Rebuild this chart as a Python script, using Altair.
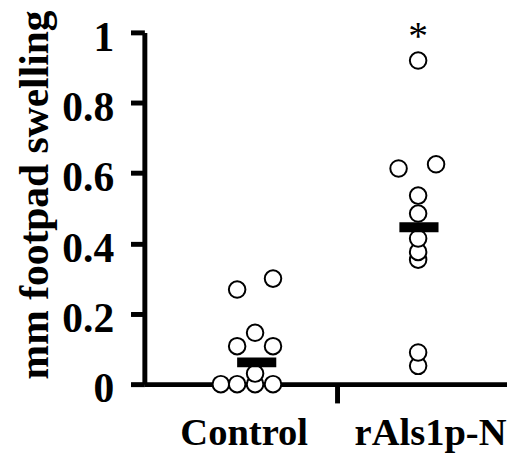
import altair as alt
import pandas as pd

# ---- data ----
groups = ["Control", "rAls1p-N"]
control_values = [0.0, 0.0, 0.0, 0.0, 0.03, 0.108, 0.108, 0.146, 0.269, 0.30]
control_pos = [0.79, 0.89, 1.0, 1.11, 1.0, 0.89, 1.11, 1.0, 0.89, 1.11]
rals_values = [0.052, 0.09, 0.354, 0.376, 0.414, 0.485, 0.536, 0.613, 0.625, 0.92]
rals_pos = [2.0, 2.0, 2.0, 2.0, 2.0, 2.0, 2.0, 1.88, 2.11, 2.0]
group_means = [0.062, 0.446]
mean_pos = [1.01, 2.005]
sig_marks = ["", "*"]
sig_pos = [1.0, 2.0]
sig_y = [1.0, 1.0]
label_pos = [0.93, 2.073]
divider_pos = [1.5]
y_ticks = [0, 0.2, 0.4, 0.6, 0.8, 1]

points = pd.DataFrame({
    "group": [groups[0]] * len(control_values) + [groups[1]] * len(rals_values),
    "pos": control_pos + rals_pos,
    "value": control_values + rals_values,
})
means = pd.DataFrame({"group": groups, "pos": mean_pos, "mean": group_means})
sig = pd.DataFrame({"pos": sig_pos, "y": sig_y, "txt": sig_marks})

FONT = "Liberation Serif"
xscale = alt.Scale(domain=[0.321, 2.545], nice=False, zero=False)
yscale = alt.Scale(domain=[0, 1], nice=False, zero=True)

label_expr = (
    f"abs(datum.value - {label_pos[0]}) < 0.01 ? '{groups[0]}' : "
    f"abs(datum.value - {label_pos[1]}) < 0.01 ? '{groups[1]}' : ''"
)

x_axis = alt.Axis(
    values=[label_pos[0], divider_pos[0], label_pos[1]],
    labelExpr=label_expr,
    title=None,
    grid=False,
    domainColor="black",
    domainWidth=5,
    tickColor="black",
    tickWidth=5,
    tickSize=19,
    tickOpacity={"condition": {"test": f"abs(datum.value - {divider_pos[0]}) < 0.01", "value": 1}, "value": 0},
    labelFont=FONT,
    labelFontSize=39,
    labelFontWeight="bold",
    labelColor="black",
    labelPadding=11,
    labelFlush=False,
    labelOverlap=False,
    labelBaseline="top",
)

y_axis = alt.Axis(
    values=y_ticks,
    format=".1~f",
    title="mm footpad swelling",
    titleFont=FONT,
    titleFontSize=42,
    titleFontWeight="bold",
    titleColor="black",
    titleX=-111,
    titleY=164,
    titleAngle=270,
    titleAlign="center",
    titleBaseline="middle",
    grid=False,
    domainColor="black",
    domainWidth=5,
    tickColor="black",
    tickWidth=5,
    tickSize=14,
    labelFont=FONT,
    labelFontSize=42,
    labelFontWeight="bold",
    labelColor="black",
    labelPadding=17,
    labelOffset=5,
)

base_pts = alt.Chart(points).mark_point(
    shape="circle", filled=True, fill="white", stroke="black",
    strokeWidth=2, size=280, opacity=1,
).encode(
    x=alt.X("pos:Q", scale=xscale, axis=x_axis),
    y=alt.Y("value:Q", scale=yscale, axis=y_axis),
)

mean_bars = alt.Chart(means).transform_calculate(
    x1="datum.pos - 0.12", x2="datum.pos + 0.12"
).mark_rule(color="black", strokeWidth=10).encode(
    x=alt.X("x1:Q", scale=xscale),
    x2="x2:Q",
    y=alt.Y("mean:Q", scale=yscale),
)

sig_text = alt.Chart(sig).mark_text(
    font=FONT, fontSize=40, color="black", baseline="middle", align="center", dy=5
).encode(
    x=alt.X("pos:Q", scale=xscale),
    y=alt.Y("y:Q", scale=yscale),
    text="txt:N",
)

chart = alt.layer(base_pts, mean_bars, sig_text).properties(
    width=367,
    height=356,
    autosize=alt.AutoSizeParams(type="none"),
    padding={"left": 138, "top": 22, "right": 0, "bottom": 67},
    background="white",
).configure_view(stroke=None)

chart.save("out.html", embed_options={"renderer": "svg", "actions": False})
